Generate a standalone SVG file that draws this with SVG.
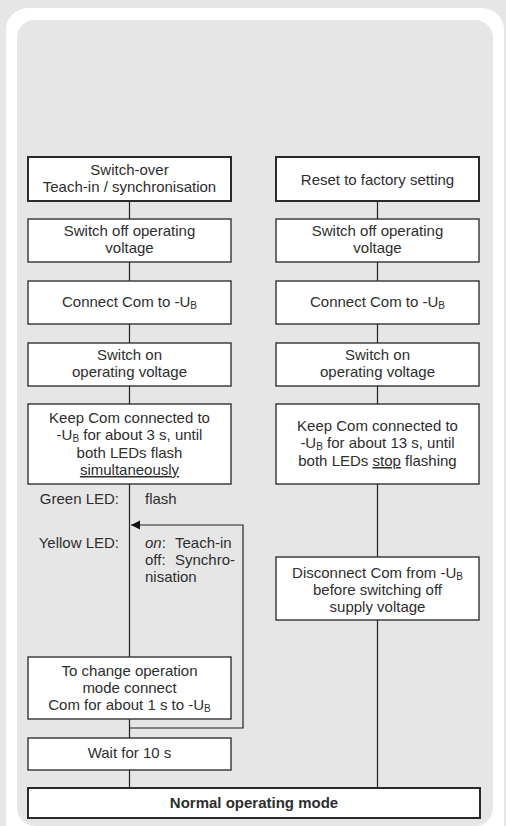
<svg xmlns="http://www.w3.org/2000/svg" width="506" height="826" viewBox="0 0 506 826">
<style>
text{font-family:"Liberation Sans","Open Sans",sans-serif;font-size:15px;fill:#2e2e2e;text-anchor:middle}
.l{text-anchor:start}
.e{text-anchor:end}
.b{fill:#fff;stroke:#333;stroke-width:1.4}
.t{fill:#fff;stroke:#2a2a2a;stroke-width:2}
.c{stroke:#222;stroke-width:1.2;fill:none}
.s{font-size:10px}
</style>
<defs>
<marker id="ah" markerWidth="10" markerHeight="10" refX="9" refY="4.5" orient="auto" markerUnits="userSpaceOnUse">
<path d="M0,0 L9,4.5 L0,9 Z" fill="#111"/>
</marker>
</defs>
<rect x="0" y="0" width="506" height="826" fill="#e6e6e6"/>
<rect x="6" y="8" width="498" height="840" rx="22" fill="#fff"/>
<rect x="17" y="20" width="476" height="806" rx="18" fill="#e6e6e6"/>
<g id="connectors">
<path class="c" d="M129.5,201V219M129.5,262V281M129.5,324V343M129.5,386V404M129.5,484V657M129.5,719V738M129.5,770V788"/>
<path class="c" d="M377.5,201V219M377.5,262V281M377.5,324V343M377.5,386V404M377.5,484V557M377.5,620V788"/>
<path class="c" d="M129.5,728H243V525H131" stroke="#444" marker-end="url(#ah)"/>
</g>
<g id="n1"><rect class="t" x="28" y="157" width="203" height="44"/><text x="129.5" y="175">Switch-over<tspan x="129.5" dy="17">Teach-in / synchronisation</tspan></text></g>
<g id="n2"><rect class="b" x="28" y="219" width="203" height="43"/><text x="129.5" y="236">Switch off operating<tspan x="129.5" dy="17">voltage</tspan></text></g>
<g id="n3"><rect class="b" x="28" y="281" width="203" height="43"/><text x="129.5" y="307">Connect Com to -U<tspan class="s" dy="1.5">B</tspan></text></g>
<g id="n4"><rect class="b" x="28" y="343" width="203" height="43"/><text x="129.5" y="360">Switch on<tspan x="129.5" dy="17">operating voltage</tspan></text></g>
<g id="n5"><rect class="b" x="28" y="404" width="203" height="80"/><text x="129.5" y="423">Keep Com connected to<tspan x="129.5" dy="17">-U</tspan><tspan class="s" dy="1.5">B</tspan><tspan dy="-1.5"> for about 3 s, until</tspan><tspan x="129.5" dy="18">both LEDs flash</tspan><tspan x="129.5" dy="17" text-decoration="underline">simultaneously</tspan></text></g>
<g id="led"><text class="e" x="119" y="504">Green LED:</text><text class="l" x="145" y="504">flash</text><text class="e" x="119" y="548">Yellow LED:</text><text class="l" x="145" y="548"><tspan font-style="italic">on</tspan>:<tspan x="175">Teach-in</tspan><tspan x="145" dy="17">off:</tspan><tspan x="175">Synchro-</tspan><tspan x="145" dy="17">nisation</tspan></text></g>
<g id="n6"><rect class="b" x="28" y="657" width="203" height="62"/><text x="129.5" y="676">To change operation<tspan x="129.5" dy="17">mode connect</tspan><tspan x="129.5" dy="17">Com for about 1 s to -U</tspan><tspan class="s" dy="1.5">B</tspan></text></g>
<g id="n7"><rect class="b" x="28" y="738" width="203" height="32"/><text x="129.5" y="758">Wait for 10 s</text></g>
<g id="r1"><rect class="t" x="276" y="157" width="203" height="44"/><text x="377.5" y="185">Reset to factory setting</text></g>
<g id="r2"><rect class="b" x="276" y="219" width="203" height="43"/><text x="377.5" y="236">Switch off operating<tspan x="377.5" dy="17">voltage</tspan></text></g>
<g id="r3"><rect class="b" x="276" y="281" width="203" height="43"/><text x="377.5" y="307">Connect Com to -U<tspan class="s" dy="1.5">B</tspan></text></g>
<g id="r4"><rect class="b" x="276" y="343" width="203" height="43"/><text x="377.5" y="360">Switch on<tspan x="377.5" dy="17">operating voltage</tspan></text></g>
<g id="r5"><rect class="b" x="276" y="404" width="203" height="80"/><text x="377.5" y="431">Keep Com connected to<tspan x="377.5" dy="17">-U</tspan><tspan class="s" dy="1.5">B</tspan><tspan dy="-1.5"> for about 13 s, until</tspan><tspan x="377.5" dy="18">both LEDs <tspan text-decoration="underline">stop</tspan> flashing</tspan></text></g>
<g id="r6"><rect class="b" x="276" y="557" width="203" height="63"/><text x="377.5" y="578">Disconnect Com from -U<tspan class="s" dy="1.5">B</tspan><tspan x="377.5" dy="15.5">before switching off</tspan><tspan x="377.5" dy="17">supply voltage</tspan></text></g>
<g id="normal"><rect class="t" x="28" y="788" width="452" height="30"/><text x="254" y="808" font-weight="bold" font-size="16">Normal operating mode</text></g>
</svg>
